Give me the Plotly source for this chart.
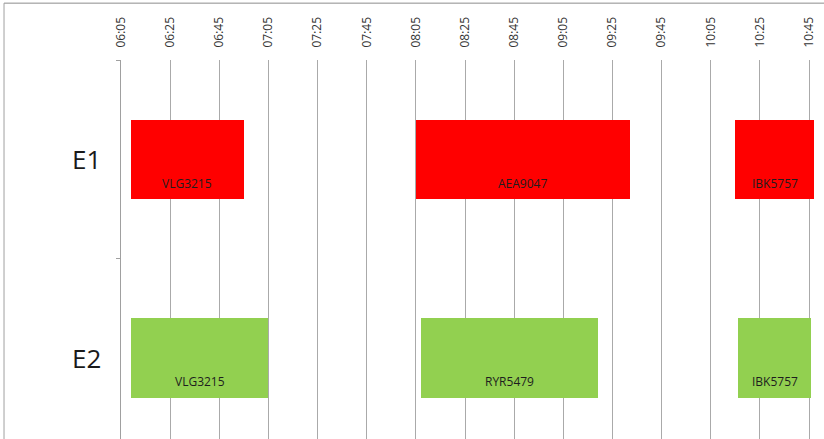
import plotly.graph_objects as go
import pandas as pd

# Stand allocation schedule
resources = ["E1", "E1", "E1", "E2", "E2", "E2"]
flights = ["VLG3215", "AEA9047", "IBK5757", "VLG3215", "RYR5479", "IBK5757"]
starts = ["06:09", "08:05", "10:15", "06:09", "08:07", "10:16"]
ends = ["06:55", "09:32", "10:47", "07:05", "09:19", "10:46"]
categories = ["E1", "E2"]
colors = {"E1": "#FF0000", "E2": "#92D050"}

day = "2024-01-01 "
t_start = pd.to_datetime([day + s for s in starts])
t_end = pd.to_datetime([day + e for e in ends])
row = [categories.index(r) for r in resources]

fig = go.Figure()
for cat in categories:
    idx = [i for i, r in enumerate(resources) if r == cat]
    fig.add_trace(go.Bar(
        orientation="h",
        base=[t_start[i] for i in idx],
        x=[(t_end[i] - t_start[i]).total_seconds() * 1000 for i in idx],
        y=[row[i] for i in idx],
        width=0.40,
        marker=dict(color=colors[cat], line=dict(width=0)),
        showlegend=False,
        hoverinfo="skip",
    ))

# flight labels near the bottom of each bar
for i in range(len(flights)):
    mid = t_start[i] + (t_end[i] - t_start[i]) / 2
    fig.add_annotation(x=mid, y=row[i] + 0.12, text=flights[i], showarrow=False,
                       font=dict(family="Open Sans", size=12, color="#1e1e1e"),
                       xanchor="center", yanchor="middle")

# resource labels
for k, cat in enumerate(categories):
    fig.add_annotation(x=-0.026, xref="paper", y=k, yref="y", text=cat,
                       showarrow=False, xanchor="right", yanchor="middle",
                       font=dict(family="Open Sans", size=26, color="#1a1a1a"))

# chart-area border (top and left)
fig.add_shape(type="line", xref="paper", yref="paper", x0=-0.1664, x1=1.01,
              y0=1.150, y1=1.150, line=dict(color="#8c8c8c", width=1))
fig.add_shape(type="line", xref="paper", yref="paper", x0=-0.1664, x1=-0.1664,
              y0=-0.01, y1=1.150, line=dict(color="#a0a0a0", width=1))

fig.update_layout(
    width=824, height=439,
    margin=dict(l=121, r=0, t=60, b=0),
    plot_bgcolor="white", paper_bgcolor="white",
    barmode="overlay", bargap=0,
    xaxis=dict(
        type="date", side="top",
        range=[day + "06:05", day + "10:51:06"],
        tick0=day + "06:05", dtick=20 * 60 * 1000, tickformat="%H:%M",
        tickangle=-90, ticks="outside", ticklen=9, tickcolor="rgba(0,0,0,0)",
        tickfont=dict(family="Open Sans", size=12, color="#333333"),
        showgrid=True, gridcolor="#aaaaaa", gridwidth=1.3,
        showline=False, zeroline=False,
    ),
    yaxis=dict(
        range=[1.407, -0.5],
        tickvals=[-0.5, 0.5, 1.5], ticktext=["", "", ""],
        ticks="outside", ticklen=4, tickcolor="#a0a0a0",
        showgrid=False, zeroline=False,
        showline=True, linecolor="#a0a0a0", linewidth=1.3,
    ),
)

fig.write_html("out.html")
